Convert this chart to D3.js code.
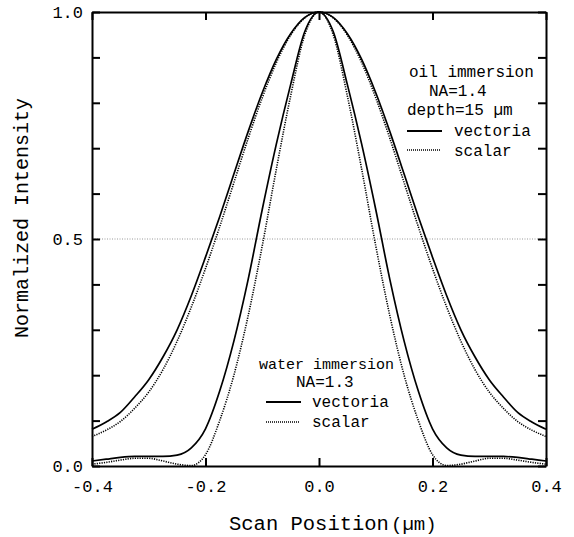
<!DOCTYPE html>
<html>
<head>
<meta charset="utf-8">
<script src="https://d3js.org/d3.v7.min.js"></script>
<style>
  body { margin: 0; background: #fff; }
  text { font-family: "Liberation Mono", "DejaVu Sans Mono", monospace; fill: #000; }
</style>
</head>
<body>
<script>
// scan positions (um), shared by all four profiles
var scanPos = [-0.4, -0.375, -0.35, -0.325, -0.3, -0.275, -0.25, -0.225, -0.2, -0.175, -0.15, -0.125, -0.1, -0.075, -0.05, -0.025,
  0, 0.025, 0.05, 0.075, 0.1, 0.125, 0.15, 0.175, 0.2, 0.225, 0.25, 0.275, 0.3, 0.325, 0.35, 0.375, 0.4];

// oil immersion NA=1.4, depth 15um
var oilVector = [0.081, 0.097, 0.118, 0.152, 0.19, 0.24, 0.30, 0.375, 0.46, 0.549, 0.643, 0.736, 0.822, 0.896, 0.952, 0.988,
  1.0, 0.988, 0.952, 0.896, 0.822, 0.736, 0.643, 0.549, 0.46, 0.375, 0.30, 0.24, 0.19, 0.152, 0.118, 0.097, 0.081];
var oilScalar = [0.065, 0.079, 0.098, 0.127, 0.163, 0.212, 0.275, 0.35, 0.435, 0.527, 0.624, 0.721, 0.811, 0.889, 0.949, 0.987,
  1.0, 0.987, 0.949, 0.889, 0.811, 0.721, 0.624, 0.527, 0.435, 0.35, 0.275, 0.212, 0.163, 0.127, 0.098, 0.079, 0.065];

// water immersion NA=1.3
var waterVector = [0.011, 0.015, 0.019, 0.021, 0.021, 0.021, 0.024, 0.04, 0.082, 0.165, 0.275, 0.41, 0.565, 0.71, 0.84, 0.957,
  1.0, 0.957, 0.84, 0.71, 0.565, 0.41, 0.275, 0.165, 0.082, 0.04, 0.024, 0.021, 0.021, 0.021, 0.019, 0.015, 0.011];
var waterScalar = [0.004, 0.008, 0.013, 0.017, 0.017, 0.011, 0.004, 0.001, 0.025, 0.1, 0.2, 0.33, 0.485, 0.655, 0.815, 0.95,
  1.0, 0.95, 0.815, 0.655, 0.485, 0.33, 0.2, 0.1, 0.025, 0.001, 0.004, 0.011, 0.017, 0.017, 0.013, 0.008, 0.004];

var xTicks = [-0.4, -0.2, 0.0, 0.2, 0.4];
var yTicks = [0, 0.1, 0.2, 0.3, 0.4, 0.5, 0.6, 0.7, 0.8, 0.9, 1.0];
var yLabelled = [0, 0.5, 1.0];

var W = 574, H = 537;
var plotL = 92, plotR = 546, plotT = 12, plotB = 466;

var svg = d3.select("body").append("svg")
  .attr("width", W)
  .attr("height", H);

var x = d3.scaleLinear().domain([-0.4, 0.4]).range([plotL, plotR]);
var y = d3.scaleLinear().domain([0, 1]).range([plotB, plotT]);

// half-maximum reference line
svg.append("line")
  .attr("x1", x(-0.4)).attr("x2", x(0.4))
  .attr("y1", y(0.5)).attr("y2", y(0.5))
  .attr("stroke", "#999")
  .attr("stroke-width", 1)
  .attr("stroke-dasharray", "1,1.5");

var line = d3.line()
  .x(function(d) { return x(d[0]); })
  .y(function(d) { return y(d[1]); })
  .curve(d3.curveMonotoneX);

var series = [
  {vals: oilVector, dash: null},
  {vals: oilScalar, dash: "1.2,1.2"},
  {vals: waterVector, dash: null},
  {vals: waterScalar, dash: "1.2,1.2"}
];

series.forEach(function(s) {
  svg.append("path")
    .datum(scanPos.map(function(p, i) { return [p, s.vals[i]]; }))
    .attr("d", line)
    .attr("fill", "none")
    .attr("stroke", "#000")
    .attr("stroke-width", s.dash ? 1.6 : 1.7)
    .attr("stroke-dasharray", s.dash);
});

// axes, ticks pointing inwards
var fmt = function(d) { return d.toFixed(1); };

svg.append("g")
  .attr("transform", "translate(" + plotL + ",0)")
  .call(d3.axisLeft(y).tickValues(yTicks).tickSizeInner(-8).tickSizeOuter(0).tickPadding(9)
    .tickFormat(function(d) { return yLabelled.indexOf(d) >= 0 ? fmt(d) : ""; }));

svg.append("g")
  .attr("transform", "translate(" + plotR + ",0)")
  .call(d3.axisRight(y).tickValues(yTicks).tickSizeInner(-8).tickSizeOuter(0).tickFormat(""));

svg.append("g")
  .attr("transform", "translate(0," + plotB + ")")
  .call(d3.axisBottom(x).tickValues(xTicks).tickSizeInner(-8).tickSizeOuter(0).tickPadding(14)
    .tickFormat(fmt));

svg.append("g")
  .attr("transform", "translate(0," + plotT + ")")
  .call(d3.axisTop(x).tickValues(xTicks).tickSizeInner(-8).tickSizeOuter(0).tickFormat(""));

svg.selectAll(".domain").attr("stroke", "#000").attr("stroke-width", 2);
svg.selectAll(".tick line").attr("stroke", "#000").attr("stroke-width", 2);
svg.selectAll(".tick text")
  .style("font-family", "Liberation Mono")
  .style("font-size", "17px")
  .attr("fill", "#000");

// axis titles
svg.append("text")
  .attr("x", 229).attr("y", 530)
  .style("font-size", "20.5px")
  .text("Scan Position");

svg.append("text")
  .attr("x", 391).attr("y", 530)
  .style("font-size", "19px")
  .text("(\u00b5m)");

svg.append("text")
  .attr("transform", "translate(28,218) rotate(-90)")
  .attr("text-anchor", "middle")
  .style("font-size", "20px")
  .text("Normalized Intensity");

// legends
function legend(items, lines) {
  items.forEach(function(t) {
    svg.append("text")
      .attr("x", t[0]).attr("y", t[1])
      .style("font-size", (t[3] || 16) + "px")
      .text(t[2]);
  });
  lines.forEach(function(l) {
    svg.append("line")
      .attr("x1", l[0]).attr("x2", l[1])
      .attr("y1", l[2]).attr("y2", l[2])
      .attr("stroke", "#000")
      .attr("stroke-width", l[3] ? 1.5 : 1.8)
      .attr("stroke-dasharray", l[3] ? "1,1" : null);
  });
}

legend([
  [409, 77, "oil immersion"],
  [429, 96, "NA=1.4"],
  [407, 115, "depth=15 \u00b5m"],
  [454, 136, "vectoria"],
  [454, 156, "scalar"]
], [[407, 442, 131, false], [407, 440, 150, true]]);

legend([
  [259, 369, "water immersion", 15],
  [296, 387, "NA=1.3"],
  [312, 407, "vectoria"],
  [312, 427, "scalar"]
], [[266, 301, 402, false], [266, 299, 422, true]]);
</script>
</body>
</html>
